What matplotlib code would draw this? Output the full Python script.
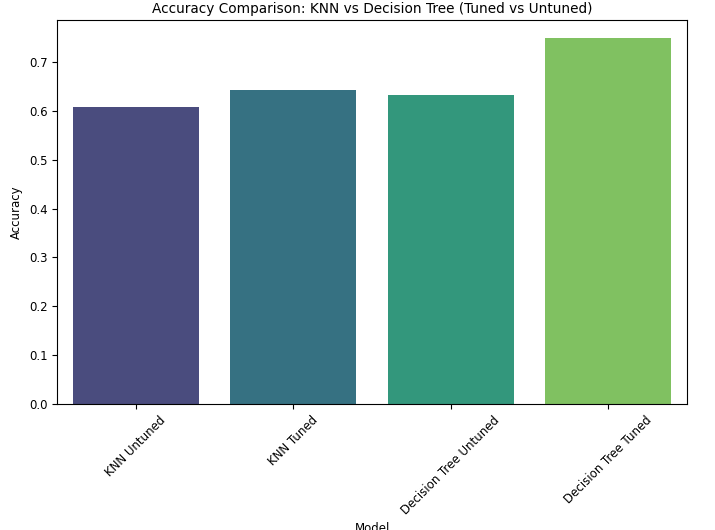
import matplotlib
matplotlib.use("Agg")
import matplotlib.pyplot as plt
import seaborn as sns

models = ["KNN Untuned", "KNN Tuned", "Decision Tree Untuned", "Decision Tree Tuned"]
accuracy = [0.607, 0.643, 0.632, 0.749]

plt.rcParams["font.size"] = 8.5
fig = plt.figure(figsize=(7.15, 5.3), dpi=100)
ax = fig.add_axes([0.080, 0.238, 0.881, 0.7245])
sns.barplot(x=models, y=accuracy, hue=models, palette="viridis", legend=False, ax=ax)
ax.set_title("Accuracy Comparison: KNN vs Decision Tree (Tuned vs Untuned)", fontsize=9.8, pad=5)
ax.set_xlabel("Model")
ax.set_ylabel("Accuracy")
plt.setp(ax.get_xticklabels(), rotation=45)
fig.savefig("out.png", dpi=100)
